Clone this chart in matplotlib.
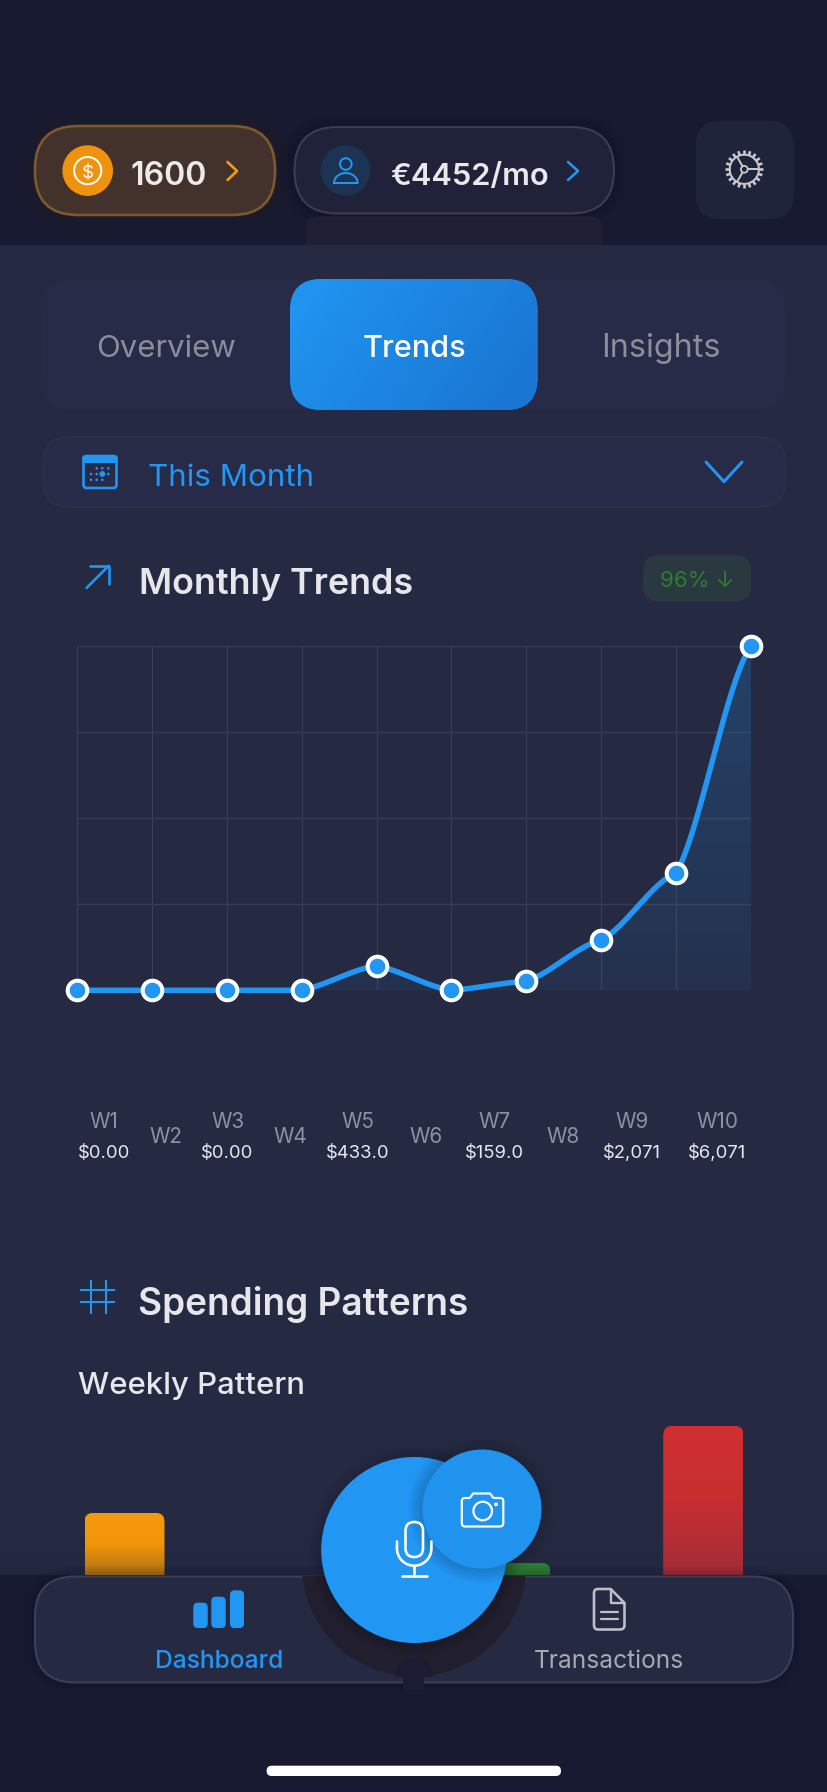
import numpy as np
import matplotlib
matplotlib.use("Agg")
import matplotlib.pyplot as plt
from matplotlib.patches import FancyBboxPatch, Circle, Polygon, PathPatch
from matplotlib.path import Path

# ---------- data ----------
weeks = ["W1", "W2", "W3", "W4", "W5", "W6", "W7", "W8", "W9", "W10"]
week_values = [0, 0, 0, 0, 433, 0, 159, 886, 2071, 6071]
week_amounts = ["$0.00", None, "$0.00", None, "$433.0", None, "$159.0", None, "$2,071", "$6,071"]
y_gridlines = [0, 1518, 3036, 4553, 6071]
bar_positions = [0, 4, 6]
bar_values = [62, 12, 149]
tabs = ["Overview", "Trends", "Insights"]

# ---------- palette ----------
BLUE = "#2196F3"
DARK = "#171a30"
PANEL = "#252a42"
FONT = ["Inter", "DejaVu Sans"]
W, H = 828, 1792
PX = 0.72

plt.rcParams["font.family"] = FONT
fig = plt.figure(figsize=(W / 100, H / 100), dpi=100, facecolor=DARK)


def px_axes(z):
    a = fig.add_axes([0, 0, 1, 1], zorder=z)
    a.set_xlim(0, W)
    a.set_ylim(H, 0)
    a.axis("off")
    a.patch.set_alpha(0)
    a.autoscale(False)
    return a


def sub_axes(x0, y0, x1, y1, z):
    a = fig.add_axes([x0 / W, 1 - y1 / H, (x1 - x0) / W, (y1 - y0) / H], zorder=z)
    a.patch.set_alpha(0)
    return a


bg = px_axes(0)
fg = px_axes(3)
renderer = fig.canvas.get_renderer()


def rrect(a, x0, y0, x1, y1, r, fc="none", ec="none", lw=0, z=2, alpha=None):
    p = FancyBboxPatch((x0 + r, y0 + r), x1 - x0 - 2 * r, y1 - y0 - 2 * r,
                       boxstyle=f"round,pad={r},rounding_size={r}", fc=fc, ec=ec,
                       lw=lw * PX, zorder=z, alpha=alpha)
    a.add_patch(p)
    return p


def hexrgb(c):
    return np.array(matplotlib.colors.to_rgb(c))


def fit_size(s, target, weight="normal"):
    t = bg.text(0, 0, s, fontsize=20, fontweight=weight, family=FONT)
    w = t.get_window_extent(renderer=renderer).width
    t.remove()
    return 20 * target / w


def fit_text(a, s, x0, x1, base, color, weight="normal", z=5):
    return a.text((x0 + x1) / 2, base, s, ha="center", va="baseline", color=color,
                  fontsize=fit_size(s, x1 - x0, weight), fontweight=weight, family=FONT, zorder=z)


def line(a, xs, ys, color, lw=2.5, z=5, cap="round", join="round"):
    a.plot(xs, ys, color=color, lw=lw * PX, zorder=z, solid_capstyle=cap, solid_joinstyle=join)


def circle(a, cx, cy, r, fc="none", ec="none", lw=0, z=4, alpha=None):
    c = Circle((cx, cy), r, fc=fc, ec=ec, lw=lw * PX, zorder=z, alpha=alpha)
    a.add_patch(c)
    return c


def soft_shadow(a, cx, cy, r, spread, z, amount=0.035):
    for k in range(6):
        circle(a, cx, cy, r + spread * (6 - k) / 6, fc="#0d0f20", z=z, alpha=amount)


# ---------- backgrounds ----------
bg.add_patch(plt.Rectangle((0, 245), W, 1330, fc=PANEL, ec="none", zorder=0))
fade = np.zeros((40, 2, 4))
fade[..., :3] = hexrgb(DARK)
fade[..., 3] = np.linspace(0, 0.18, 40)[:, None]
bg.imshow(fade, extent=(0, W, 1575, 1535), aspect="auto", zorder=0.5)

# ---------- header pills ----------
for k in range(5):
    g = 14 - k * 3
    rrect(bg, 34 - g, 125 - g, 276 + g, 216 + g, 44 + g, fc="#6b4a20", alpha=0.018, z=0.6)
    rrect(bg, 293 - g, 126 - g, 615 + g, 214 + g, 44 + g, fc="#0f1126", alpha=0.03, z=0.6)
rrect(bg, 306, 216.5, 602, 262, 12, fc="#201f33", z=0.7)
bg.add_patch(plt.Rectangle((300, 245), 310, 30, fc=PANEL, ec="none", zorder=0.8))
rrect(bg, 35, 126, 275, 215, 43, fc="#43322c", ec="#7d5a2c", lw=2.6)
circle(bg, 87.7, 170.6, 25.3, fc="#ef930f")
circle(bg, 87.7, 170.6, 13.6, ec="white", lw=2)
bg.text(87.7, 177.5, "$", color="white", fontsize=13.5, ha="center", va="baseline", zorder=5, family=FONT)
fit_text(bg, "1600", 131, 207, 185, "#ecebe9", "semibold")
line(bg, [227.5, 237, 227.5], [162, 171, 180], "#f59e0b", 2.6)

rrect(bg, 294.5, 127, 614, 213.5, 43, fc="#1f2238", ec="#3a3f58", lw=2)
circle(bg, 345.5, 170.5, 25, fc="#1c3354")
circle(bg, 345.8, 164, 5.8, ec=BLUE, lw=2)
dome = np.linspace(np.pi, 2 * np.pi, 30)
line(bg, np.r_[345.8 + 11.8 * np.cos(dome), 333.9], np.r_[183 + 10 * np.sin(dome), 183], BLUE, 2)
fit_text(bg, "€4452/mo", 390, 549, 185, "#e9e9ec", "semibold")
line(bg, [568, 578, 568], [162, 171, 180], BLUE, 2.6)

# settings
rrect(bg, 696, 121, 793.6, 219, 24, fc="#20243a")
gx, gy = 744.3, 169.3
GEAR = "#c9c9cd"
circle(bg, gx, gy, 14.6, ec=GEAR, lw=2, z=5)
circle(bg, gx, gy, 3.4, ec=GEAR, lw=1.8, z=5)
for ang in np.arange(0, 360, 18):
    ca, sa = np.cos(np.radians(ang)), np.sin(np.radians(ang))
    line(bg, [gx + 14.6 * ca, gx + 19 * ca], [gy + 14.6 * sa, gy + 19 * sa], GEAR, 2.6, cap="butt")
for ang in (0, 120, 240):
    ca, sa = np.cos(np.radians(ang)), np.sin(np.radians(ang))
    line(bg, [gx + 3.4 * ca, gx + 14.6 * ca], [gy + 3.4 * sa, gy + 14.6 * sa], GEAR, 2, cap="butt")

# ---------- tabs ----------
rrect(bg, 43, 279, 785, 410, 30, fc="#272b47", z=1)
tab = rrect(bg, 290, 279, 537.5, 410, 32, fc=BLUE, z=2)
u, v = np.meshgrid(np.linspace(0, 1, 80), np.linspace(0, 1, 60))
mix = np.clip((u * 0.8 + (1 - v) * 0.3), 0, 1)[..., None]
grad = hexrgb(BLUE) * (1 - mix) + hexrgb("#1976D2") * mix
im = bg.imshow(grad, extent=(290, 537.5, 410, 279), origin="lower", aspect="auto", zorder=2.1)
im.set_clip_path(tab)
fit_text(bg, tabs[0], 96.6, 236, 357, "#8b8d98")
fit_text(bg, tabs[1], 362.2, 465.7, 357, "#ffffff", "medium")
fit_text(bg, tabs[2], 602, 720.7, 357.5, "#8b8d98")

# ---------- dropdown ----------
rrect(bg, 43, 437, 785, 507, 26, fc="#272b47", ec="#2e3350", lw=1, z=1)
rrect(bg, 83.5, 456, 116.5, 488, 3, ec=BLUE, lw=2.6, z=3)
rrect(bg, 82.3, 455, 117.7, 463, 3, fc=BLUE, z=3)
for cx, cy, r in [(96.7, 468.3, 1.3), (102.3, 468.3, 1.3), (108.3, 468.3, 1.3),
                  (91, 474, 1.3), (96.7, 474, 1.3), (102.3, 474, 2.9), (108.3, 474, 1.3),
                  (91, 479.8, 1.3), (96.7, 479.8, 1.3), (102.3, 479.8, 1.3)]:
    circle(bg, cx, cy, r, fc=BLUE)
fit_text(bg, "This Month", 148, 314, 486, BLUE)
line(bg, [706, 724, 742], [462, 481.7, 462], BLUE, 3)

# ---------- chart header ----------
line(bg, [86.5, 108.5], [588, 566], BLUE, 2.6)
line(bg, [90.5, 109, 109], [565.7, 565.7, 584], BLUE, 2.6)
fit_text(bg, "Monthly Trends", 138, 413.4, 593.7, "#e6e7ea", "semibold")
rrect(bg, 643, 555, 751, 601.7, 16, fc="#2a383f")
fit_text(bg, "96% ↓", 660, 734, 586.7, "#2e7d32")

# ---------- line chart ----------
ax = sub_axes(76.6, 645.7, 751.4, 990.3, 1)
vals = np.array(week_values, float)
xpos = np.arange(len(vals))
sec = np.diff(vals)
cx, cy = [], []
for i in range(len(vals) - 1):
    t = np.linspace(0, 1, 40)
    h00 = 2 * t**3 - 3 * t**2 + 1
    h10 = t**3 - 2 * t**2 + t
    h01 = -2 * t**3 + 3 * t**2
    h11 = t**3 - t**2
    cx.append(xpos[i] + t)
    cy.append(h00 * vals[i] + h10 * 0.6 * sec[i] + h01 * vals[i + 1] + h11 * 0.45 * sec[i])
cx, cy = np.concatenate(cx), np.concatenate(cy)

ax.set_xlim(0, len(vals) - 1)
ax.set_ylim(0, max(vals))
ax.set_xticks(xpos)
ax.set_yticks(y_gridlines)
ax.tick_params(left=False, bottom=False, labelleft=False, labelbottom=False)
ax.grid(True, axis="x", color="#3d4157", lw=1 * PX, zorder=1)
ax.grid(True, axis="y", color="#373b53", lw=1.4 * PX, zorder=1)
ax.set_axisbelow(True)
for s in ax.spines.values():
    s.set_visible(False)
clip_poly = Polygon(np.c_[np.r_[cx, cx[-1], cx[0]], np.r_[cy, 0, 0]], closed=True,
                    transform=ax.transData, fc="none", ec="none")
ax.add_patch(clip_poly)
g = np.zeros((120, 2, 4))
g[..., :3] = hexrgb(BLUE)
g[..., 3] = np.linspace(0.22, 0.07, 120)[:, None]
img = ax.imshow(g, extent=(0, len(vals) - 1, 0, max(vals)), aspect="auto", origin="upper", zorder=1.5)
img.set_clip_path(clip_poly)
ax.set_xlim(0, len(vals) - 1)
ax.set_ylim(0, max(vals))
ax.plot(cx, cy, color=BLUE, lw=5.5 * PX, zorder=3, clip_on=False, solid_capstyle="round")
ax.plot(xpos, vals, ls="none", marker="o", ms=19.6 * PX, mfc=BLUE, mec="white", mew=4 * PX,
        zorder=4, clip_on=False)

# ---------- x labels ----------
label_x = [104, 165.8, 227.6, 290, 358, 426, 495, 563.4, 632, 717.5]
fs_w = fit_size("W10", 42)
fs_v = fit_size("$0.00", 52)
for name, amt, x in zip(weeks, week_amounts, label_x):
    if amt is None:
        bg.text(x, 1142.7, name, color="#8f919c", fontsize=fs_w, ha="center", va="baseline", zorder=5)
    else:
        bg.text(x, 1127.7, name, color="#8f919c", fontsize=fs_w, ha="center", va="baseline", zorder=5)
        bg.text(x, 1158, amt, color="#e8e8ec", fontsize=fs_v, ha="center", va="baseline", zorder=5)

# ---------- spending patterns ----------
for x in (90.8, 105.6):
    line(bg, [x, x], [1280, 1314], BLUE, 2, cap="butt")
for y in (1290, 1302.5):
    line(bg, [80, 114.6], [y, y], BLUE, 2, cap="butt")
fit_text(bg, "Spending Patterns", 138, 468, 1315, "#e6e7ea", "semibold")
fit_text(bg, "Weekly Pattern", 78, 305, 1394.3, "#e6e7ea", "medium")

bax = sub_axes(76.25, 1400, 751.75, 1575, 1)
bax.set_xlim(-0.5, 6.5)
bax.set_ylim(0, 175)
bax.axis("off")
bar_cols = [("#f59a0c", "#f29609", "#ac7214"), ("#2e7d32", "#2e7d32", "#2e7d32"), ("#d03030", "#c62e31", "#a42d36")]
bars = bax.bar(bar_positions, bar_values, width=80 / 96.5, color=[c[0] for c in bar_cols], zorder=2)
for rect, cols in zip(bars, bar_cols):
    (x0, y1), (x1, y0) = bg.transData.inverted().transform(
        bax.transData.transform([(rect.get_x(), rect.get_y()),
                                 (rect.get_x() + rect.get_width(), rect.get_height())]))
    clip = rrect(bg, x0, y0, x1, y1 + 20, 9, fc="none", z=0.1)
    clip.set_visible(False)
    n = 100
    s = np.linspace(0, 1, n)
    col = np.zeros((n, 1, 3))
    c0, c1, c2 = [hexrgb(c) for c in cols]
    for i, q in enumerate(s):
        col[i, 0] = c0 + (c1 - c0) * q / 0.5 if q < 0.5 else c1 + (c2 - c1) * (q - 0.5) / 0.5
    im2 = bax.imshow(col, extent=(rect.get_x(), rect.get_x() + rect.get_width(), 0, rect.get_height()),
                     aspect="auto", origin="upper", zorder=3)
    im2.set_clip_path(clip)
    rect.set_clip_path(clip)
bax.set_xlim(-0.5, 6.5)
bax.set_ylim(0, 175)

# ---------- bottom nav ----------
fg.add_patch(plt.Rectangle((0, 1575), W, H - 1575, fc=DARK, ec="none", zorder=0.5))
for k in range(4):
    gp = 10 - k * 2.5
    rrect(fg, 34 - gp, 1576 - gp, 794 + gp, 1683 + gp, 40 + gp, fc="#0f1126", alpha=0.05, z=0.6)
rrect(fg, 35, 1576.5, 793, 1682.5, 40, fc=PANEL, ec="#3c4058", lw=2, z=1)
dark = circle(fg, 414, 1564, 112.5, fc="#211f2e", z=1.5)
clipper = plt.Rectangle((290, 1576), 250, 120, transform=fg.transData)
dark.set_clip_path(clipper)
fg.add_patch(plt.Rectangle((403, 1670), 21, 20, fc="#1b1c33", ec="none", zorder=1.7))
hump = np.linspace(np.pi, 2 * np.pi, 30)
fg.add_patch(Polygon(np.c_[414 + 18.5 * np.cos(hump), 1677 + 20 * np.sin(hump)], closed=True,
                     fc="#1b1c33", ec="none", zorder=1.7))

# nav icons
for x0, x1, top in [(193.3, 207.7, 1602.7), (211.3, 225.7, 1596.7), (230, 244, 1590.3)]:
    rrect(fg, x0, top, x1, 1628, 4.5, fc=BLUE, z=3)
fit_text(fg, "Dashboard", 154.7, 283, 1668, BLUE, "medium")
DOC = "#bfc0c6"
doc = Path([(610.7, 1589), (598, 1589), (594, 1589), (594, 1593), (594, 1625), (594, 1629.5), (598, 1629.5),
            (620, 1629.5), (624.5, 1629.5), (624.5, 1625), (624.5, 1603), (610.7, 1589)],
           [Path.MOVETO, Path.LINETO, Path.CURVE3, Path.CURVE3, Path.LINETO, Path.CURVE3, Path.CURVE3,
            Path.LINETO, Path.CURVE3, Path.CURVE3, Path.LINETO, Path.LINETO])
fg.add_patch(PathPatch(doc, fc="none", ec=DOC, lw=2.6 * PX, zorder=3, joinstyle="round"))
line(fg, [610.7, 610.7, 624], [1589, 1603, 1603], DOC, 2.4, z=3)
line(fg, [601, 618], [1612.5, 1612.5], DOC, 2.2, z=3)
line(fg, [601, 618], [1619.2, 1619.2], DOC, 2.2, z=3)
fit_text(fg, "Transactions", 534, 684, 1668, "#a8aab2")

# main buttons
soft_shadow(fg, 414.2, 1550, 93, 12, 2, amount=0.025)
circle(fg, 414.2, 1550, 93, fc=BLUE, z=3)
soft_shadow(fg, 482, 1509, 59.5, 14, 3.2, amount=0.03)
circle(fg, 482, 1509, 59.5, fc="#2093ef", z=3.5)

# mic icon
rrect(fg, 405.5, 1522, 423, 1557, 8.7, ec="white", lw=2.6, z=6)
arc = np.linspace(0, np.pi, 40)
line(fg, np.r_[397, 414.2 - 17.2 * np.cos(arc), 431.4],
     np.r_[1541.5, 1548.5 + 17.2 * np.sin(arc), 1541.5], "white", 2.6, z=6)
line(fg, [414.2, 414.2], [1566, 1575], "white", 2.6, z=6)
line(fg, [402, 426.6], [1575.6, 1575.6], "white", 2.6, z=6)

# camera icon
cam = Path([(470, 1498), (473, 1493.5), (490, 1493.5), (493.5, 1498), (500, 1498), (503.3, 1498), (503.3, 1501),
            (503.3, 1523), (503.3, 1526.5), (500, 1526.5), (465, 1526.5), (461.8, 1526.5), (461.8, 1523),
            (461.8, 1501), (461.8, 1498), (465, 1498), (470, 1498)],
           [Path.MOVETO, Path.LINETO, Path.LINETO, Path.LINETO, Path.LINETO, Path.CURVE3, Path.CURVE3,
            Path.LINETO, Path.CURVE3, Path.CURVE3, Path.LINETO, Path.CURVE3, Path.CURVE3,
            Path.LINETO, Path.CURVE3, Path.CURVE3, Path.LINETO])
fg.add_patch(PathPatch(cam, fc="none", ec="white", lw=2.2 * PX, zorder=6, joinstyle="round"))
circle(fg, 482.7, 1511, 9.3, ec="white", lw=2.2, z=6)
circle(fg, 496, 1504.3, 1.9, fc="white", z=6)

# home indicator
rrect(fg, 266.6, 1765.7, 561, 1776, 5.1, fc="white", z=6)

fig.savefig("out.png", dpi=100, facecolor=DARK)
